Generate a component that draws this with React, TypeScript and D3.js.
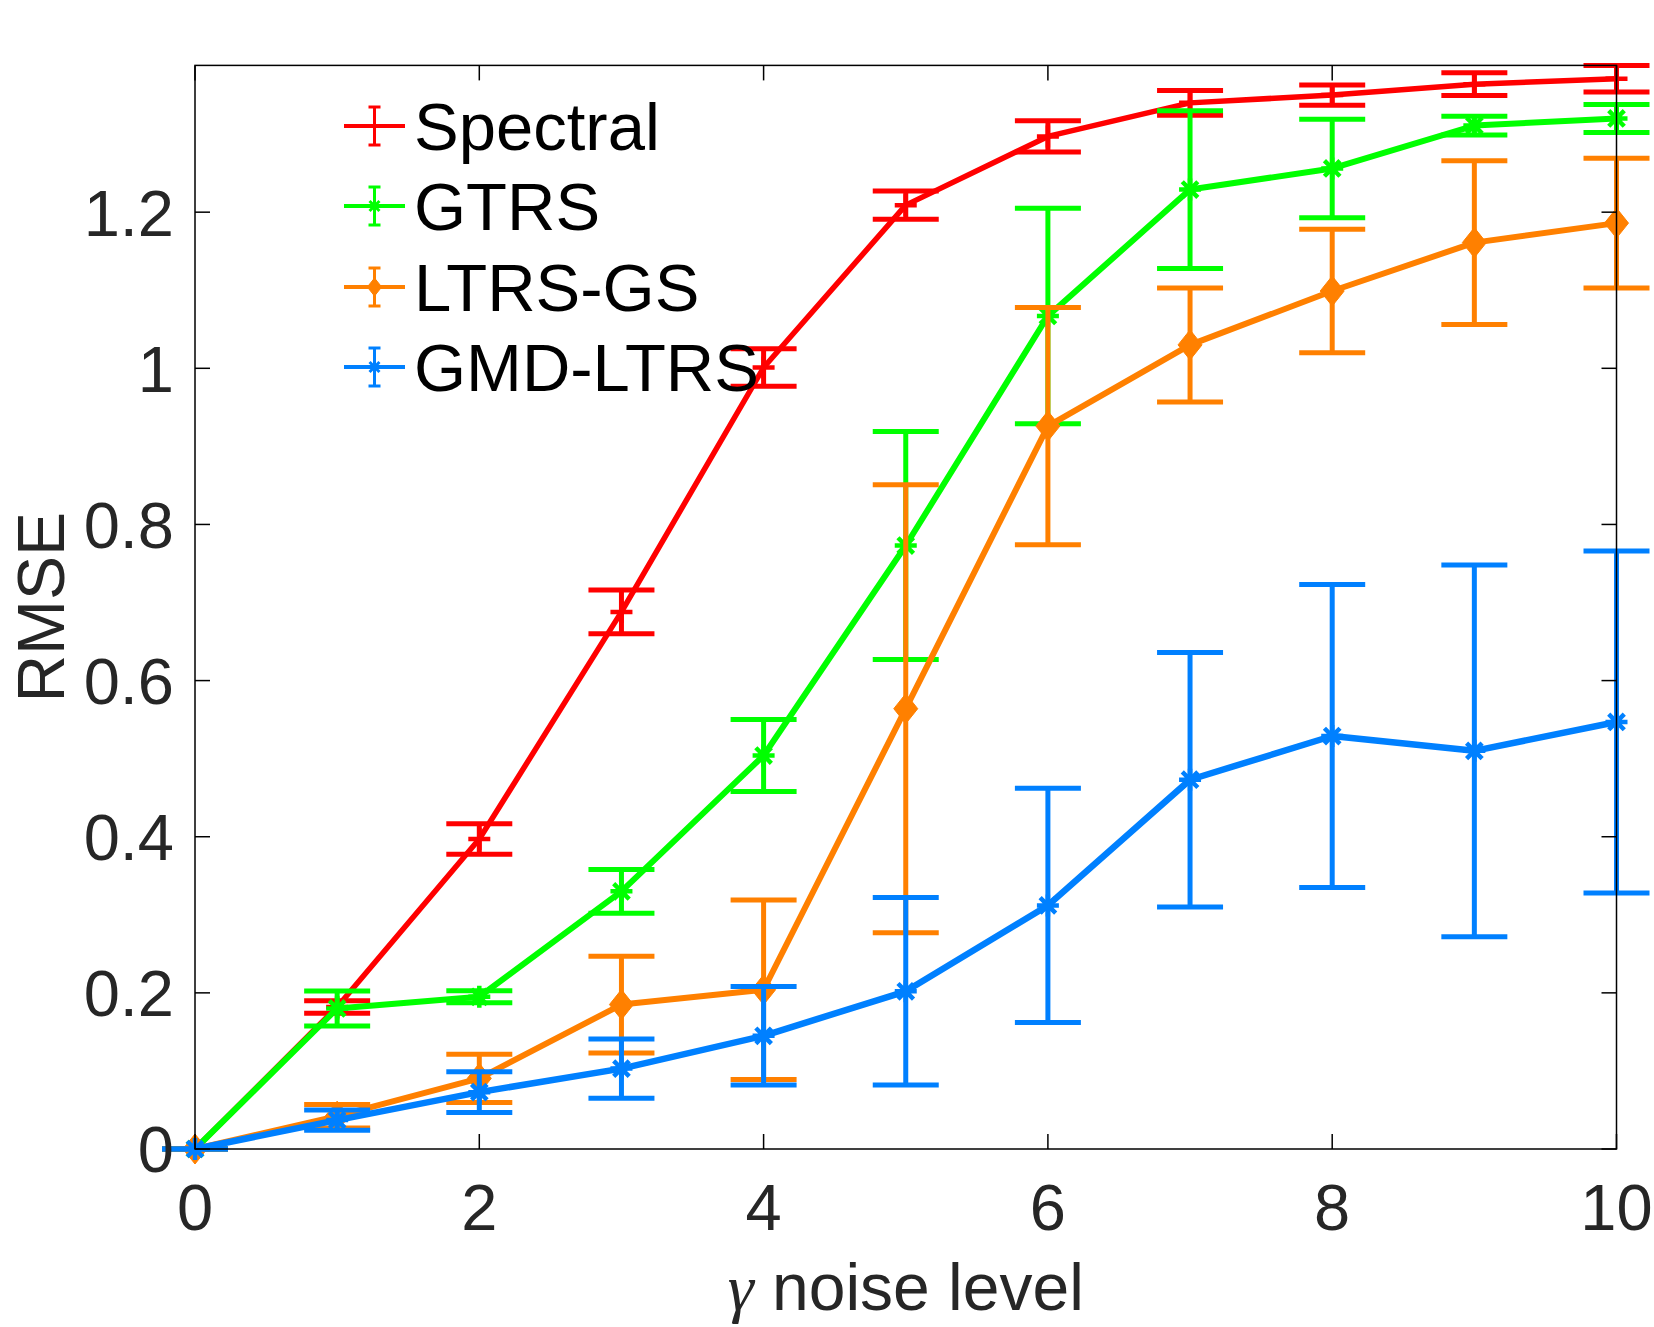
import * as d3 from "d3";

const xs = [0, 1, 2, 3, 4, 5, 6, 7, 8, 9, 10];

const spectralMean = [0, 0.182, 0.397, 0.688, 1.001, 1.209, 1.297, 1.34, 1.35, 1.364, 1.371];
const spectralErr = [0, 0.008, 0.0195, 0.028, 0.024, 0.018, 0.02, 0.016, 0.013, 0.0145, 0.017];

const gtrsMean = [0, 0.18, 0.195, 0.33, 0.504, 0.773, 1.067, 1.229, 1.256, 1.311, 1.32];
const gtrsErr = [0, 0.0225, 0.0076, 0.028, 0.046, 0.146, 0.138, 0.101, 0.063, 0.012, 0.018];

const ltrsMean = [0, 0.042, 0.0905, 0.185, 0.204, 0.564, 0.926, 1.03, 1.099, 1.161, 1.186];
const ltrsErr = [0, 0.015, 0.031, 0.062, 0.115, 0.287, 0.152, 0.073, 0.079, 0.105, 0.083];

const gmdMean = [0, 0.037, 0.0728, 0.103, 0.145, 0.202, 0.312, 0.473, 0.529, 0.51, 0.547];
const gmdErr = [0, 0.013, 0.026, 0.038, 0.063, 0.12, 0.15, 0.163, 0.194, 0.238, 0.219];

const xTicks = [0, 2, 4, 6, 8, 10];
const yTicks = [0, 0.2, 0.4, 0.6, 0.8, 1, 1.2];

type Marker = "plus" | "star" | "diamond";
type Series = { name: string; color: string; mean: number[]; err: number[]; marker: Marker; width: number };

const series: Series[] = [
  { name: "Spectral", color: "#ff0000", mean: spectralMean, err: spectralErr, marker: "plus", width: 5.5 },
  { name: "GTRS", color: "#00ff00", mean: gtrsMean, err: gtrsErr, marker: "star", width: 6 },
  { name: "LTRS-GS", color: "#ff8000", mean: ltrsMean, err: ltrsErr, marker: "diamond", width: 6 },
  { name: "GMD-LTRS", color: "#0080ff", mean: gmdMean, err: gmdErr, marker: "star", width: 6.5 },
];

const W = 1654;
const H = 1327;
const left = 195;
const right = 1616.5;
const top = 65.4;
const bottom = 1149;
const FONT = "'Liberation Sans', Arial, Helvetica, sans-serif";
const TXT = "#262626";

const x = d3.scaleLinear().domain([0, 10]).range([left, right]);
const y = d3.scaleLinear().domain([0, 1.388]).range([bottom, top]);

function MarkerShape({ kind, cx, cy, color, size, sw }: { kind: Marker; cx: number; cy: number; color: string; size: number; sw: number }) {
  if (kind === "diamond") {
    const w = size * 0.8;
    const h = size;
    return <path d={`M${cx},${cy - h}L${cx + w},${cy}L${cx},${cy + h}L${cx - w},${cy}Z`} fill={color} stroke={color} strokeWidth={1} />;
  }
  if (kind === "plus") {
    return (
      <path d={`M${cx - size},${cy}H${cx + size}M${cx},${cy - size}V${cy + size}`} stroke={color} strokeWidth={sw} fill="none" />
    );
  }
  // asterisk: plus and cross overlaid
  const arms = [0, 45, 90, 135].map((a) => {
    const r = (a * Math.PI) / 180;
    const dx = Math.cos(r) * size;
    const dy = Math.sin(r) * size;
    return `M${cx - dx},${cy - dy}L${cx + dx},${cy + dy}`;
  });
  return <path d={arms.join("")} stroke={color} strokeWidth={sw} fill="none" />;
}

export default function App() {
  const line = d3
    .line<number>()
    .x((_, i) => x(xs[i]))
    .y((d) => y(d));
  const cap = 33;
  const legendY = [126, 206, 287, 367];

  return (
    <svg width={W} height={H} style={{ position: "absolute", left: 0, top: 0, background: "#fff" }}>
      <rect x={0} y={0} width={W} height={H} fill="#fff" />

      {series.map((s) => (
        <g key={s.name}>
          <path d={line(s.mean) || undefined} fill="none" stroke={s.color} strokeWidth={s.width} strokeLinejoin="round" />
          {s.mean.map((m, i) => {
            const cx = x(xs[i]);
            const y1 = y(m + s.err[i]);
            const y0 = y(m - s.err[i]);
            return (
              <g key={i} stroke={s.color} strokeWidth={5} fill="none">
                <line x1={cx} x2={cx} y1={y1} y2={y0} />
                <line x1={cx - cap} x2={cx + cap} y1={y1} y2={y1} />
                <line x1={cx - cap} x2={cx + cap} y1={y0} y2={y0} />
              </g>
            );
          })}
          {s.mean.map((m, i) => (
            <MarkerShape
              key={"m" + i}
              kind={s.marker}
              cx={x(xs[i])}
              cy={y(m)}
              color={s.color}
              size={s.marker === "diamond" ? 15 : 11}
              sw={4.5}
            />
          ))}
        </g>
      ))}

      <rect x={left} y={top} width={right - left} height={bottom - top} fill="none" stroke="#000" strokeWidth={1.5} />
      {xTicks.map((t) => (
        <g key={"xt" + t} stroke="#000" strokeWidth={1.5}>
          <line x1={x(t)} x2={x(t)} y1={bottom} y2={bottom - 15} />
          <line x1={x(t)} x2={x(t)} y1={top} y2={top + 15} />
        </g>
      ))}
      {yTicks.map((t) => (
        <g key={"yt" + t} stroke="#000" strokeWidth={1.5}>
          <line x1={left} x2={left + 15} y1={y(t)} y2={y(t)} />
          <line x1={right} x2={right - 15} y1={y(t)} y2={y(t)} />
        </g>
      ))}

      <g fontFamily={FONT} fontSize={65} fill={TXT}>
        {xTicks.map((t) => (
          <text key={"xl" + t} x={x(t)} y={1230} textAnchor="middle">
            {t}
          </text>
        ))}
        {yTicks.map((t) => (
          <text key={"yl" + t} x={174} y={y(t)} dy="0.36em" textAnchor="end">
            {t}
          </text>
        ))}
        <text x={(left + right) / 2} y={1310} textAnchor="middle" fontSize={66}>
          <tspan fontFamily="'Liberation Serif', 'Times New Roman', serif" fontStyle="italic">
            γ
          </tspan>
          <tspan> noise level</tspan>
        </text>
        <text transform={`translate(64, ${(top + bottom) / 2}) rotate(-90)`} textAnchor="middle" fontSize={66}>
          RMSE
        </text>
      </g>

      {series.map((s, i) => {
        const ly = legendY[i];
        const cx = 374.5;
        return (
          <g key={"lg" + s.name}>
            <line x1={344} x2={405} y1={ly} y2={ly} stroke={s.color} strokeWidth={4} />
            <g stroke={s.color} strokeWidth={3}>
              <line x1={cx} x2={cx} y1={ly - 19} y2={ly + 19} />
              <line x1={cx - 6} x2={cx + 6} y1={ly - 19} y2={ly - 19} />
              <line x1={cx - 6} x2={cx + 6} y1={ly + 19} y2={ly + 19} />
            </g>
            <MarkerShape kind={s.marker} cx={cx} cy={ly} color={s.color} size={s.marker === "diamond" ? 9 : 7} sw={3} />
            <text x={414} y={ly} dy="0.36em" fontFamily={FONT} fontSize={67} fill="#000">
              {s.name}
            </text>
          </g>
        );
      })}
    </svg>
  );
}
